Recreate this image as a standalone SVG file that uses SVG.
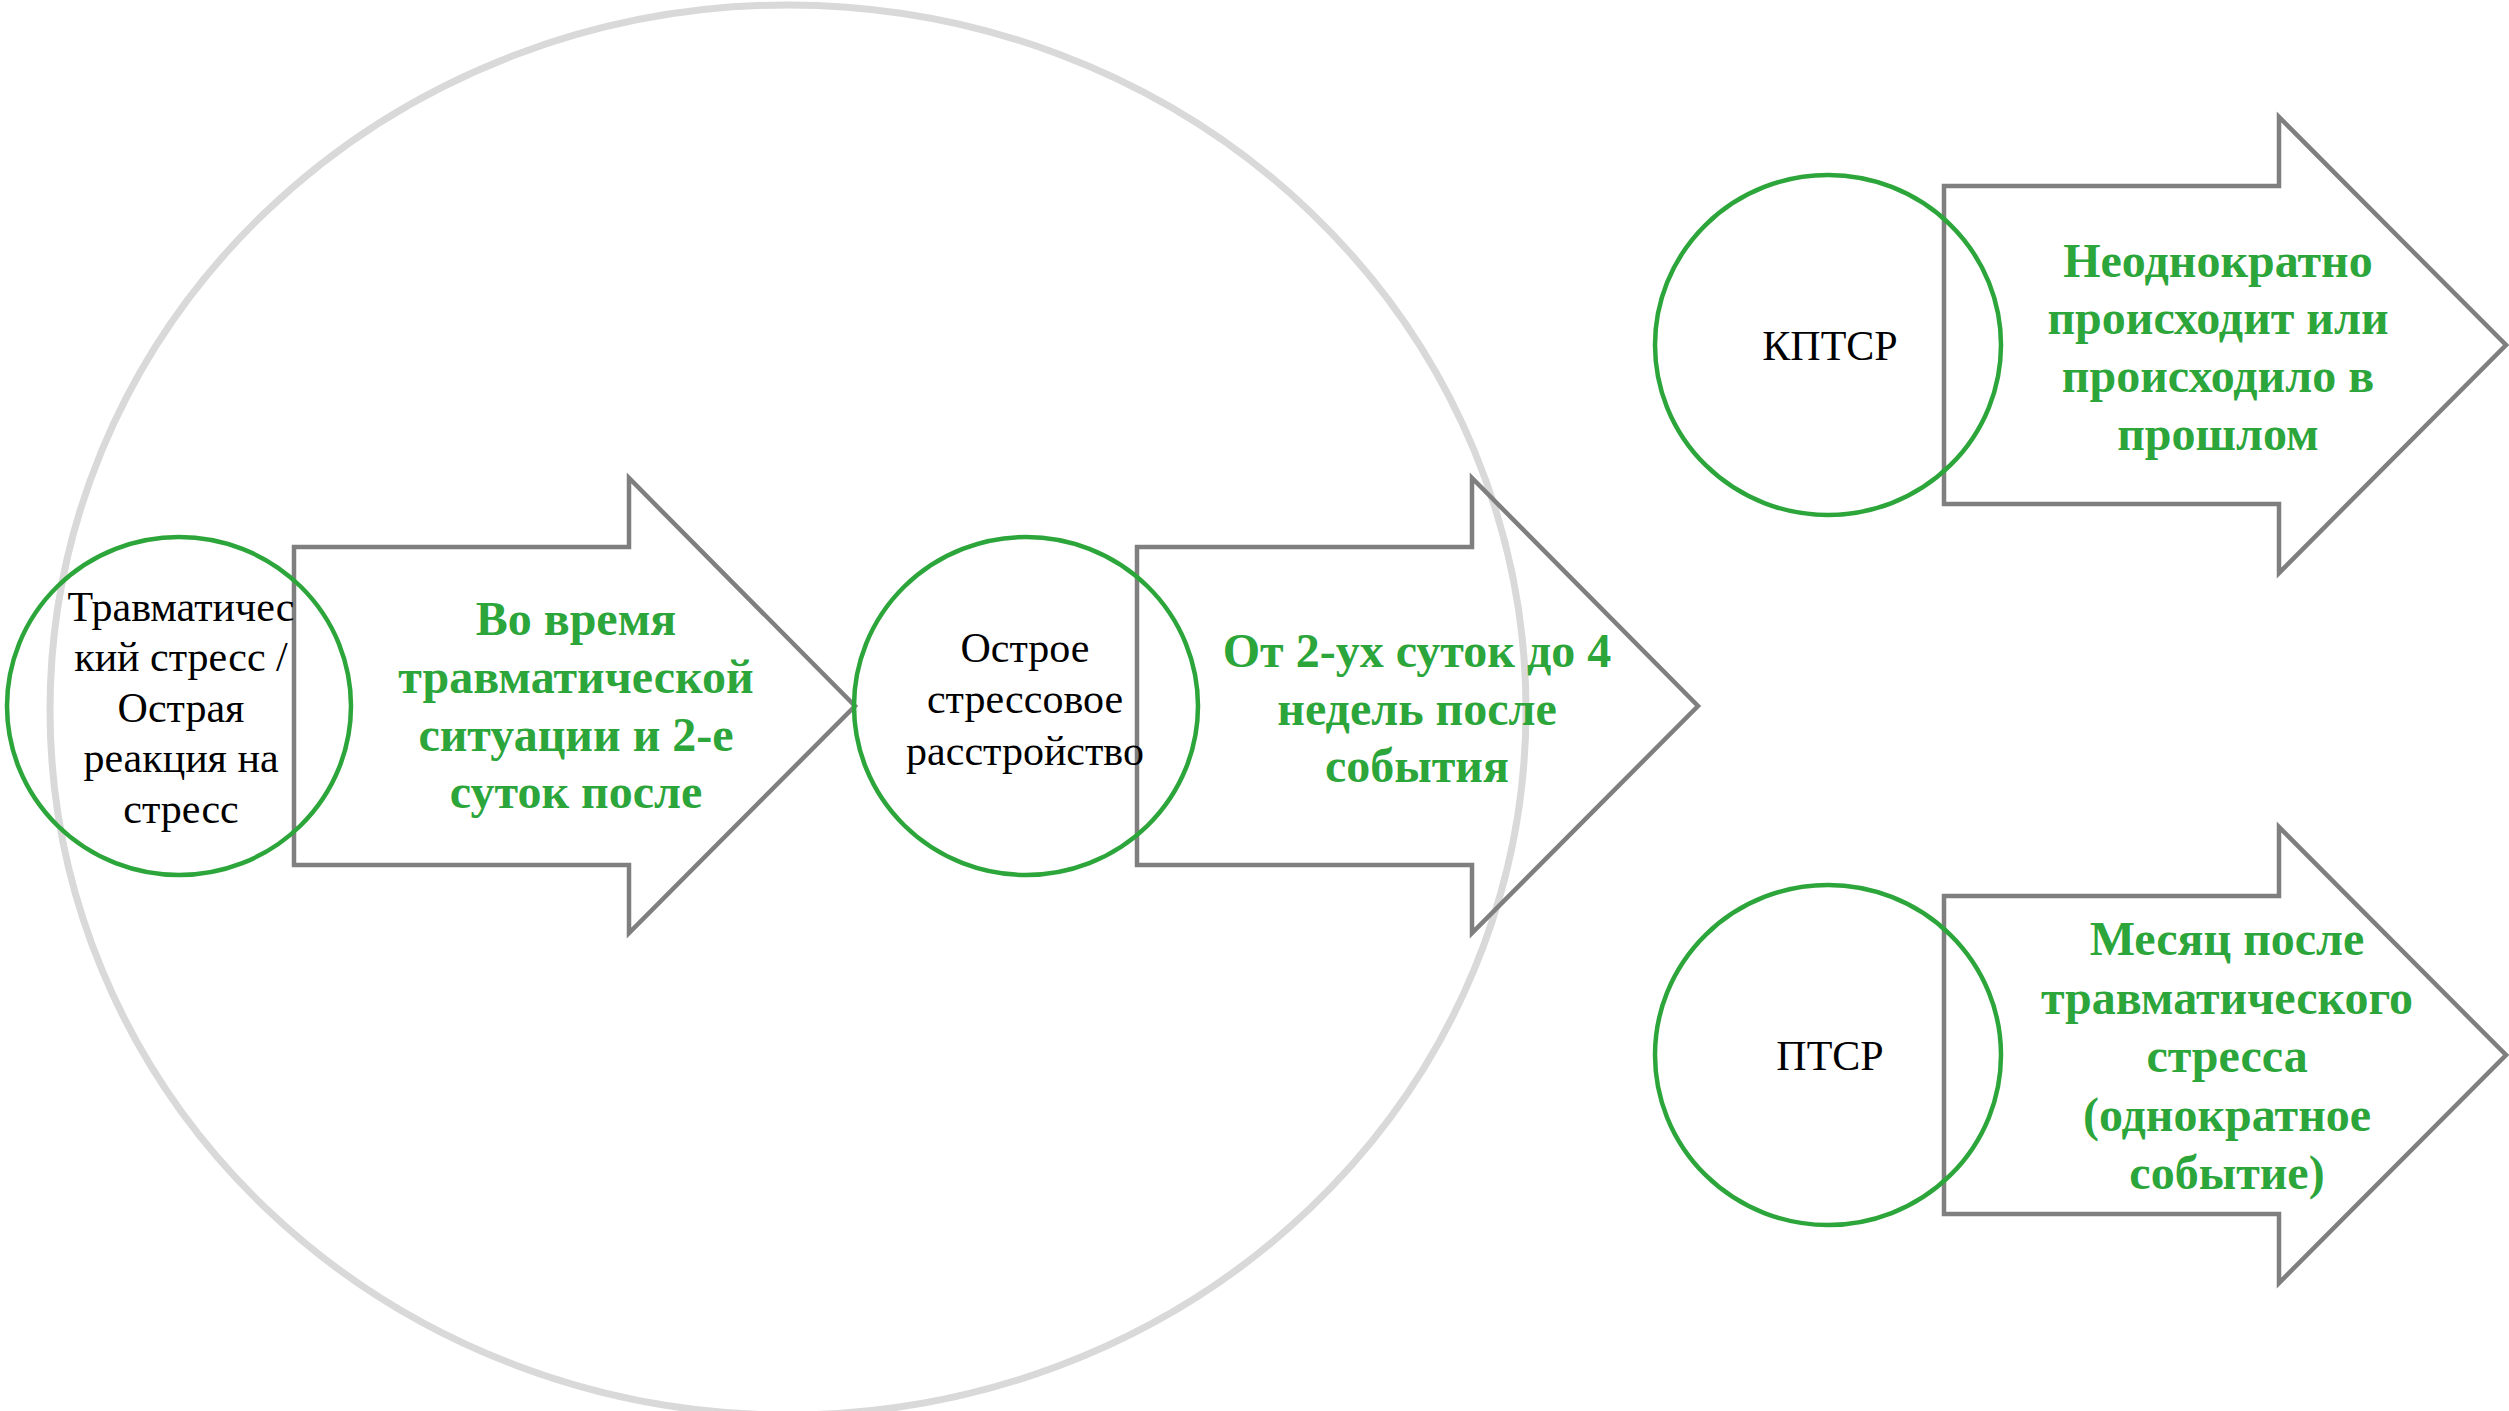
<svg xmlns="http://www.w3.org/2000/svg" width="2509" height="1411" viewBox="0 0 2509 1411">
<style>
.bg{fill:#fff}
.big{fill:none;stroke:#D9D9D9;stroke-width:7}
.arr{fill:none;stroke:#7F7F7F;stroke-width:4.5;stroke-linejoin:miter}
.ring{fill:none;stroke:#2CA53A;stroke-width:4.5}
.lbl{font-family:"Liberation Serif","Times New Roman",serif;font-size:42px;fill:#000;text-anchor:middle}
.grn{font-family:"Liberation Serif","Times New Roman",serif;font-size:48px;font-weight:bold;fill:#2CA53A;text-anchor:middle}
</style>
<rect class="bg" x="0" y="0" width="2509" height="1411"/>
<g id="outer-ring">
<ellipse class="big" cx="788" cy="710" rx="738" ry="705"/>
</g>
<g id="connectors">
<g id="arrow1">
<path class="arr" d="M294,547 H629 V478 L855,706 L629,933 V865 H294 Z"/>
<text class="grn" x="576"><tspan x="576" y="635">Во время</tspan><tspan x="576" y="693">травматической</tspan><tspan x="576" y="751">ситуации и 2-е</tspan><tspan x="576" y="808">суток после</tspan></text>
</g>
<g id="arrow2">
<path class="arr" d="M1137,547 H1472 V478 L1698,706 L1472,933 V865 H1137 Z"/>
<text class="grn" x="1417"><tspan x="1417" y="667">От 2-ух суток до 4</tspan><tspan x="1417" y="725">недель после</tspan><tspan x="1417" y="782">события</tspan></text>
</g>
<g id="arrow3">
<path class="arr" d="M1944,186 H2279 V117 L2506,345 L2279,573 V504 H1944 Z"/>
<text class="grn" x="2218"><tspan x="2218" y="277">Неоднократно</tspan><tspan x="2218" y="334">происходит или</tspan><tspan x="2218" y="392">происходило в</tspan><tspan x="2218" y="450">прошлом</tspan></text>
</g>
<g id="arrow4">
<path class="arr" d="M1944,896 H2279 V827 L2506,1055 L2279,1283 V1214 H1944 Z"/>
<text class="grn" x="2227"><tspan x="2227" y="955">Месяц после</tspan><tspan x="2227" y="1014">травматического</tspan><tspan x="2227" y="1072">стресса</tspan><tspan x="2227" y="1131">(однократное</tspan><tspan x="2227" y="1189">событие)</tspan></text>
</g>
</g>
<g id="node-trauma">
<ellipse class="ring" cx="179" cy="706" rx="172" ry="169"/>
<text class="lbl"><tspan x="181" y="621">Травматичес</tspan><tspan x="181" y="671">кий стресс /</tspan><tspan x="181" y="722">Острая</tspan><tspan x="181" y="772">реакция на</tspan><tspan x="181" y="823">стресс</tspan></text>
</g>
<g id="node-acute">
<ellipse class="ring" cx="1026" cy="706" rx="172" ry="169"/>
<text class="lbl"><tspan x="1025" y="662">Острое</tspan><tspan x="1025" y="713">стрессовое</tspan><tspan x="1025" y="765">расстройство</tspan></text>
</g>
<g id="node-cptsd">
<ellipse class="ring" cx="1828" cy="345" rx="173" ry="170"/>
<text class="lbl" x="1830" y="360">КПТСР</text>
</g>
<g id="node-ptsd">
<ellipse class="ring" cx="1828" cy="1055" rx="173" ry="170"/>
<text class="lbl" x="1830" y="1070">ПТСР</text>
</g>
</svg>
